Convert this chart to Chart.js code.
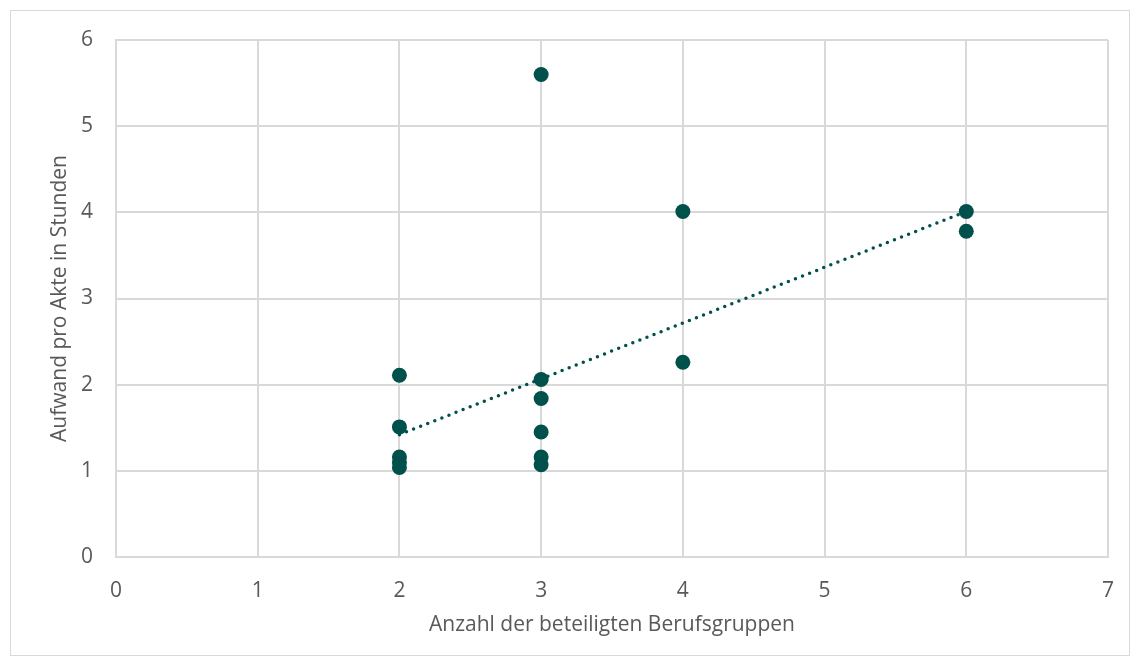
<!DOCTYPE html>
<html>
<head>
<meta charset="utf-8">
<script src="https://cdn.jsdelivr.net/npm/chart.js@4"></script>
<style>
  html, body { margin: 0; padding: 0; background: #fff; }
  #wrap { width: 1140px; height: 666px; }
</style>
</head>
<body>
<div id="wrap"><canvas id="scatterChart" width="1140" height="666"></canvas></div>
<script>
// Anzahl Berufsgruppen / Aufwand pro Akte (Stunden)
const groupCounts = [2, 2, 2, 2, 2, 3, 3, 3, 3, 3, 3, 4, 4, 6, 6];
const hoursPerFile = [2.11, 1.51, 1.16, 1.10, 1.04, 5.60, 2.06, 1.84, 1.45, 1.16, 1.07, 4.01, 2.26, 4.01, 3.78];
// linear trend line
const trendX = [2, 6];
const trendY = [1.42, 4.01];

const xAxisTitle = 'Anzahl der beteiligten Berufsgruppen';
const yAxisTitle = 'Aufwand pro Akte in Stunden';

const pointColor = '#00504c';
const gridColor = '#d9d9d9';
const textColor = '#595959';
const fontFamily = "'Open Sans', 'Liberation Sans', sans-serif";

const frame = {
    id: 'frame',
    beforeDraw(chart) {
        const c = chart.ctx;
        c.save();
        c.fillStyle = '#fff';
        c.fillRect(0, 0, chart.width, chart.height);
        c.strokeStyle = '#d9d9d9';
        c.lineWidth = 1;
        c.strokeRect(10.5, 10.5, 1119, 645);
        c.restore();
    }
};

document.addEventListener('DOMContentLoaded', () => {
    const ctx = document.getElementById('scatterChart').getContext('2d');

    const config = {
        type: 'scatter',
        data: {
            datasets: [{
                label: 'Trend',
                type: 'line',
                data: trendX.map((x, i) => ({ x: x, y: trendY[i] })),
                borderColor: pointColor,
                borderWidth: 3.5,
                borderDash: [0, 7.6],
                borderCapStyle: 'round',
                pointRadius: 0,
                fill: false,
                order: 2
            }, {
                label: 'Aufwand',
                data: groupCounts.map((x, i) => ({ x: x, y: hoursPerFile[i] })),
                backgroundColor: pointColor,
                borderColor: pointColor,
                pointRadius: 7.5,
                pointBorderWidth: 0,
                order: 1
            }]
        },
        options: {
            responsive: false,
            animation: false,
            layout: {
                padding: { left: 10, right: 32, top: 40, bottom: 10 }
            },
            scales: {
                x: {
                    type: 'linear',
                    min: 0,
                    max: 7,
                    afterFit: (scale) => { scale.height = 99; },
                    ticks: {
                        stepSize: 1,
                        color: textColor,
                        padding: 21,
                        font: { family: fontFamily, size: 21 }
                    },
                    grid: { color: gridColor, lineWidth: 2, drawTicks: false },
                    border: { color: gridColor, width: 2 },
                    title: {
                        display: true,
                        text: xAxisTitle,
                        color: textColor,
                        padding: { top: 10, bottom: 18 },
                        font: { family: fontFamily, size: 21 }
                    }
                },
                y: {
                    min: 0,
                    max: 6,
                    afterFit: (scale) => { scale.width = 106; },
                    ticks: {
                        stepSize: 1,
                        color: textColor,
                        padding: 23,
                        font: { family: fontFamily, size: 21 }
                    },
                    grid: { color: gridColor, lineWidth: 2, drawTicks: false },
                    border: { color: gridColor, width: 2 },
                    title: {
                        display: true,
                        text: yAxisTitle,
                        color: textColor,
                        padding: { top: 37, bottom: 0 },
                        font: { family: fontFamily, size: 21 }
                    }
                }
            },
            plugins: {
                legend: { display: false },
                tooltip: { enabled: false }
            }
        },
        plugins: [frame]
    };

    new Chart(ctx, config);
});
</script>
</body>
</html>
